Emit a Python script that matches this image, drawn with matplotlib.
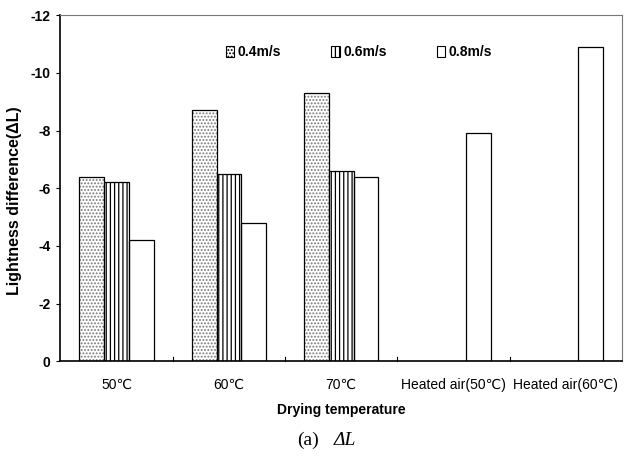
import numpy as np
import matplotlib
matplotlib.use("Agg")
import matplotlib.pyplot as plt
from matplotlib.patches import Patch

# Lightness difference for each drying condition and air velocity
categories = ["50℃", "60℃", "70℃", "Heated air(50℃)", "Heated air(60℃)"]
v04 = [-6.4, -8.7, -9.3, np.nan, np.nan]
v06 = [-6.2, -6.5, -6.6, np.nan, np.nan]
v08 = [-4.2, -4.8, -6.4, -7.9, -10.9]
series_labels = ["0.4m/s", "0.6m/s", "0.8m/s"]
yticks = [0, -2, -4, -6, -8, -10, -12]

plt.rcParams["font.family"] = ["Liberation Sans", "DejaVu Sans"]
plt.rcParams["hatch.linewidth"] = 0.9

fig = plt.figure(figsize=(6.29, 4.59), dpi=100)
ax = fig.add_axes([0.096, 0.213, 0.893, 0.754])

x = np.arange(len(categories))
w = 0.22

styles = [
    dict(hatch_color="#777777", hatch="....."),
    dict(hatch_color="black", hatch="||||"),
    dict(hatch_color="black", hatch=None),
]

for vals, off, st in zip([v04, v06, v08], [-w, 0, w], styles):
    vals = np.array(vals, dtype=float)
    # hatch layer first, then the black outline on top
    if st["hatch"]:
        ax.bar(x + off, vals, w, facecolor="white", edgecolor=st["hatch_color"],
               hatch=st["hatch"], linewidth=0)
    ax.bar(x + off, vals, w, facecolor="none", edgecolor="black", linewidth=0.9)

ax.set_xlim(-0.5, 4.5)
ax.set_ylim(0, -12)
ax.set_yticks(yticks)
ax.set_yticklabels([str(t) for t in yticks], fontweight="bold", fontsize=10)
ax.set_xticks(x)
ax.set_xticklabels(categories, fontsize=10)
ax.tick_params(axis="x", length=0, pad=12)
ax.tick_params(axis="y", length=3, width=0.8, direction="out", pad=4)

# small category separators along the axis
for b in x[:-1] + 0.5:
    ax.plot([b, b], [0, -0.15], color="black", linewidth=0.8, clip_on=False)

for side in ["left", "bottom"]:
    ax.spines[side].set_linewidth(1.2)
for side in ["top", "right"]:
    ax.spines[side].set_color("#777777")
    ax.spines[side].set_linewidth(0.8)

ax.set_ylabel("Lightness difference(ΔL)", fontweight="bold", fontsize=11.5)
ax.yaxis.set_label_coords(-0.068, 0.465)
ax.set_xlabel("Drying temperature", fontweight="bold", fontsize=10, labelpad=8)

handles = [
    Patch(facecolor="white", edgecolor="black", hatch=".....", linewidth=0.8),
    Patch(facecolor="white", edgecolor="black", hatch="||||", linewidth=0.8),
    Patch(facecolor="white", edgecolor="black", linewidth=0.8),
]
leg = ax.legend(handles, series_labels, ncol=3, frameon=False, loc="center left",
                bbox_to_anchor=(0.295, 0.893), borderpad=0, borderaxespad=0,
                handlelength=0.6, handleheight=0.8, handletextpad=0.25,
                columnspacing=3.6, prop=dict(weight="bold", size=10))

fig.text(0.472, 0.041, "(a)", family="Liberation Serif", fontsize=14, ha="left", va="center")
fig.text(0.530, 0.041, "ΔL", family="Liberation Serif", style="italic", fontsize=14,
         ha="left", va="center")

fig.savefig("out.png", dpi=100)
